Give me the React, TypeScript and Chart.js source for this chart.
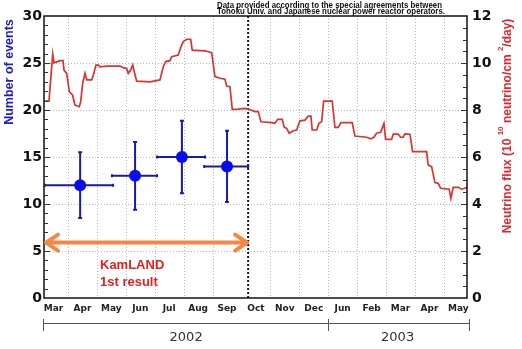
import React, { useEffect, useRef } from "react";
import { Chart, registerables } from "chart.js";

Chart.register(...registerables);

// ---- data ----
// x values are months counted from 1 Mar 2002 (1 = 1 Apr 2002, 10 = 1 Jan 2003, ...)
const monthLabels = ["Mar", "Apr", "May", "Jun", "Jul", "Aug", "Sep", "Oct", "Nov", "Dec", "Jun", "Feb", "Mar", "Apr", "May"];
const yearLabels = ["2002", "2003"];
const yearStarts = [0.17, 10];
const yearEnds = [10, 14.8];
const xMin = 0.17;
const xMax = 14.8;

const fluxMonths = [
  0.17, 0.343, 0.471, 0.516, 0.637, 0.723, 0.827, 0.862, 0.955, 1.045, 1.156, 1.242, 1.391, 1.439, 1.508, 1.588,
  1.647, 1.82, 1.875, 1.968, 2.048, 2.107, 2.338, 2.798, 2.912, 3.03, 3.085, 3.168, 3.237, 3.293, 3.375, 3.835,
  4.181, 4.295, 4.378, 4.527, 4.586, 4.814, 4.907, 4.987, 5.104, 5.243, 5.298, 5.737, 5.969, 6.083, 6.256, 6.429,
  6.487, 6.602, 6.681, 6.889, 7.12, 7.328, 7.466, 7.58, 7.674, 8.044, 8.158, 8.251, 8.41, 8.479, 8.562, 8.652,
  8.79, 8.908, 9.022, 9.195, 9.309, 9.402, 9.447, 9.6, 9.679, 9.772, 9.842, 10.139, 10.232, 10.346, 10.44, 10.83,
  10.924, 11.328, 11.467, 11.581, 11.674, 11.813, 11.927, 11.985, 12.193, 12.248, 12.421, 12.504, 12.594, 12.653,
  12.826, 12.919, 13.403, 13.458, 13.576, 13.69, 13.804, 13.887, 14.184, 14.243, 14.323, 14.495, 14.613, 14.727, 14.796,
];
const fluxValues = [
  8.38, 8.38, 10.38, 10.01, 10.06, 10.1, 10.1, 9.7, 9.56, 8.78, 8.64, 8.21, 8.14, 8.35, 9.14, 9.56,
  9.28, 9.28, 9.49, 9.91, 9.91, 9.84, 9.87, 9.87, 9.8, 9.77, 9.56, 9.7, 9.91, 9.63, 9.23, 9.2,
  9.28, 9.84, 10.06, 10.1, 10.27, 10.34, 10.69, 10.91, 11.01, 11.01, 10.55, 10.52, 10.44, 9.42, 9.35, 9.31,
  9.02, 8.99, 8.03, 8.04, 8.07, 8.0, 7.93, 7.93, 7.5, 7.46, 7.43, 7.6, 7.6, 7.26, 7.22, 7.01,
  7.12, 7.15, 7.54, 7.57, 7.74, 7.74, 7.15, 7.15, 7.43, 7.5, 8.38, 8.38, 7.26, 7.26, 7.46, 7.46,
  6.89, 6.84, 6.77, 6.84, 7.01, 7.05, 7.43, 6.75, 6.75, 6.97, 6.97, 6.84, 6.84, 6.98,
  6.97, 6.23, 6.23, 5.66, 5.59, 4.91, 4.88, 4.67, 4.63, 4.24, 4.71, 4.71, 4.63, 4.67, 4.71,
];

const eventMonths = [1.42, 3.32, 4.94, 6.5];
const eventCounts = [12, 13, 15, 14];
const eventErrors = [3.5, 3.6, 3.85, 3.8];
const eventStarts = [0.2, 2.52, 4.08, 5.71];
const eventEnds = [2.56, 4.08, 5.74, 7.23];

const firstResultEnd = 7.23;
const arrowLevel = 5.9;
const noteLines = ["KamLAND", "1st result"];
const noteX = 2.107;
const noteYs = [3.5, 1.63];
const creditLines = [
  "Data provided according to the special agreements between",
  "Tohoku Univ. and Japanese nuclear power reactor operators.",
];

const leftTitle = "Number of events";
const rightTitleParts: [string, boolean][] = [
  ["Neutrino flux (10 ", false],
  ["10", true],
  [" neutrino/cm ", false],
  ["2", true],
  ["/day)", false],
];

const decorPlugin = {
  id: "decor",
  beforeDatasetsDraw(chart: any) {
    const { ctx, chartArea: a, scales } = chart;
    const x = scales.x;
    const y = scales.y;
    ctx.save();
    // dotted grid
    ctx.strokeStyle = "#b8b8b8";
    ctx.lineWidth = 1;
    ctx.setLineDash([1, 2]);
    for (let m = 1; m <= 14; m++) {
      if (m === 7) continue;
      const px = Math.round(x.getPixelForValue(m)) + 0.5;
      ctx.beginPath();
      ctx.moveTo(px, a.top);
      ctx.lineTo(px, a.bottom);
      ctx.stroke();
    }
    for (let v = 5; v < 30; v += 5) {
      const py = Math.round(y.getPixelForValue(v)) + 0.5;
      ctx.beginPath();
      ctx.moveTo(a.left, py);
      ctx.lineTo(a.right, py);
      ctx.stroke();
    }
    // black dotted line: end of first result period
    ctx.strokeStyle = "#1a1a1a";
    ctx.lineWidth = 2;
    ctx.setLineDash([2, 2]);
    const dx = x.getPixelForValue(firstResultEnd);
    ctx.beginPath();
    ctx.moveTo(dx, a.top);
    ctx.lineTo(dx, a.bottom);
    ctx.stroke();
    ctx.setLineDash([]);

    // error bars
    ctx.strokeStyle = "#1a1aa8";
    ctx.lineWidth = 2;
    for (let i = 0; i < eventMonths.length; i++) {
      const cx = x.getPixelForValue(eventMonths[i]);
      const cy = y.getPixelForValue(eventCounts[i]);
      const x0 = x.getPixelForValue(eventStarts[i]);
      const x1 = x.getPixelForValue(eventEnds[i]);
      const y0 = y.getPixelForValue(eventCounts[i] + eventErrors[i]);
      const y1 = y.getPixelForValue(eventCounts[i] - eventErrors[i]);
      ctx.beginPath();
      ctx.moveTo(x0, cy);
      ctx.lineTo(x1, cy);
      ctx.moveTo(cx, y0);
      ctx.lineTo(cx, y1);
      ctx.moveTo(x0, cy - 1.5);
      ctx.lineTo(x0, cy + 1.5);
      ctx.moveTo(x1, cy - 1.5);
      ctx.lineTo(x1, cy + 1.5);
      ctx.moveTo(cx - 2, y0);
      ctx.lineTo(cx + 2, y0);
      ctx.moveTo(cx - 2, y1);
      ctx.lineTo(cx + 2, y1);
      ctx.stroke();
    }
    ctx.restore();
  },
  afterDatasetsDraw(chart: any) {
    const { ctx, chartArea: a, scales } = chart;
    const x = scales.x;
    const y = scales.y;
    const y2 = scales.y2;
    ctx.save();

    // frame
    ctx.strokeStyle = "#111";
    ctx.lineWidth = 1.5;
    ctx.strokeRect(a.left, a.top, a.right - a.left, a.bottom - a.top);

    // inner ticks
    ctx.lineWidth = 1;
    ctx.strokeStyle = "#333";
    for (let v = 1; v < 30; v++) {
      const py = Math.round(y.getPixelForValue(v)) + 0.5;
      const len = v % 5 === 0 ? 6 : 4;
      ctx.beginPath();
      ctx.moveTo(a.left, py);
      ctx.lineTo(a.left + len, py);
      ctx.stroke();
    }
    for (let v = 0.5; v < 12; v += 0.5) {
      const py = Math.round(y2.getPixelForValue(v)) + 0.5;
      const len = v % 2 === 0 ? 6 : 4;
      ctx.beginPath();
      ctx.moveTo(a.right, py);
      ctx.lineTo(a.right - len, py);
      ctx.stroke();
    }

    // orange double arrow
    const ay = y.getPixelForValue(arrowLevel);
    const ax0 = x.getPixelForValue(xMin) + 2;
    const ax1 = x.getPixelForValue(firstResultEnd) - 1;
    ctx.strokeStyle = "#f5873e";
    ctx.lineWidth = 4;
    ctx.lineCap = "round";
    ctx.lineJoin = "round";
    ctx.beginPath();
    ctx.moveTo(ax0, ay);
    ctx.lineTo(ax1, ay);
    ctx.moveTo(ax0 + 12, ay - 8);
    ctx.lineTo(ax0, ay);
    ctx.lineTo(ax0 + 12, ay + 8);
    ctx.moveTo(ax1 - 12, ay - 8);
    ctx.lineTo(ax1, ay);
    ctx.lineTo(ax1 - 12, ay + 8);
    ctx.stroke();

    // KamLAND note
    ctx.fillStyle = "#e3201b";
    ctx.font = 'bold 13px "Liberation Sans", Arial, sans-serif';
    ctx.textAlign = "left";
    ctx.textBaseline = "middle";
    noteLines.forEach((t, i) => {
      ctx.fillText(t, x.getPixelForValue(noteX), y.getPixelForValue(noteYs[i]));
    });

    // year bracket
    const by = a.bottom + 25.5;
    ctx.strokeStyle = "#555";
    ctx.lineWidth = 1;
    ctx.lineCap = "butt";
    const bl = x.getPixelForValue(yearStarts[0]) - 0.5;
    const br = x.getPixelForValue(yearEnds[1]) + 2.5;
    ctx.beginPath();
    ctx.moveTo(bl, by);
    ctx.lineTo(br, by);
    [bl, Math.round(x.getPixelForValue(yearStarts[1])) + 0.5, br].forEach((px) => {
      ctx.moveTo(px, a.bottom + 21);
      ctx.lineTo(px, a.bottom + 33);
    });
    ctx.stroke();
    ctx.fillStyle = "#333";
    ctx.font = '13px "DejaVu Sans", sans-serif';
    ctx.textAlign = "center";
    yearLabels.forEach((t, i) => {
      const cx = (x.getPixelForValue(yearStarts[i]) + x.getPixelForValue(yearEnds[i])) / 2;
      ctx.fillText(t, cx, a.bottom + 40);
    });

    // credit text at top
    ctx.fillStyle = "#111";
    ctx.font = 'bold 8.5px "Liberation Sans", Arial, sans-serif';
    ctx.textAlign = "left";
    ctx.textBaseline = "alphabetic";
    ctx.fillText(creditLines[0], 217, 7.5, 225);
    ctx.fillText(creditLines[1], 217, 14, 228);

    // left title
    ctx.save();
    ctx.translate(10, 72);
    ctx.rotate(-Math.PI / 2);
    ctx.fillStyle = "#1d1dc9";
    ctx.font = 'bold 12.5px "Liberation Sans", Arial, sans-serif';
    ctx.textAlign = "center";
    ctx.textBaseline = "middle";
    ctx.fillText(leftTitle, 0, 0);
    ctx.restore();

    // right title
    ctx.save();
    ctx.translate(506, 126);
    ctx.rotate(-Math.PI / 2);
    ctx.fillStyle = "#e3262b";
    ctx.textAlign = "left";
    ctx.textBaseline = "alphabetic";
    const mainFont = 'bold 12px "Liberation Sans", Arial, sans-serif';
    const supFont = 'bold 8px "Liberation Sans", Arial, sans-serif';
    let total = 0;
    rightTitleParts.forEach(([t, sup]) => {
      ctx.font = sup ? supFont : mainFont;
      total += ctx.measureText(t).width;
    });
    let pos = -total / 2;
    rightTitleParts.forEach(([t, sup]) => {
      ctx.font = sup ? supFont : mainFont;
      ctx.fillText(t, pos, sup ? -3 : 5);
      pos += ctx.measureText(t).width;
    });
    ctx.restore();

    ctx.restore();
  },
};

export default function App() {
  const ref = useRef<HTMLCanvasElement | null>(null);
  useEffect(() => {
    if (!ref.current) return;
    const chart = new Chart(ref.current, {
      type: "line",
      data: {
        datasets: [
          {
            label: "events",
            data: eventMonths.map((m, i) => ({ x: m, y: eventCounts[i] })),
            yAxisID: "y",
            showLine: false,
            pointRadius: 6,
            pointHoverRadius: 6,
            pointBackgroundColor: "#0b0bf0",
            pointBorderWidth: 0,
            borderColor: "#0b0bf0",
            order: 0,
          },
          {
            label: "flux",
            data: fluxMonths.map((m, i) => ({ x: m, y: fluxValues[i] })),
            yAxisID: "y2",
            borderColor: "#dc3232",
            borderWidth: 1.7,
            pointRadius: 0,
            tension: 0,
            fill: false,
            order: 1,
          },
        ],
      },
      options: {
        responsive: false,
        animation: false,
        events: [],
        layout: { padding: { top: 16, left: 0, right: 0, bottom: 0 } },
        plugins: { legend: { display: false }, tooltip: { enabled: false }, title: { display: false } },
        scales: {
          x: {
            type: "linear",
            min: xMin,
            max: xMax,
            grid: { display: false, drawTicks: false },
            border: { display: false },
            afterBuildTicks: (scale: any) => {
              scale.ticks = monthLabels.map((_, i) => ({ value: i + 0.5 }));
            },
            afterFit: (scale: any) => {
              scale.height = 51;
            },
            ticks: {
              autoSkip: false,
              maxRotation: 0,
              padding: 5,
              color: "#222",
              font: { family: "DejaVu Sans", size: 9, weight: "bold" },
              callback: (_v: any, i: number) => monthLabels[i],
            },
          },
          y: {
            position: "left",
            min: 0,
            max: 30,
            grid: { display: false, drawTicks: false },
            border: { display: false },
            afterFit: (scale: any) => {
              scale.width = 44;
            },
            ticks: {
              stepSize: 5,
              padding: 2,
              color: "#111",
              font: { family: "DejaVu Sans", size: 14, weight: "bold" },
            },
          },
          y2: {
            position: "right",
            min: 0,
            max: 12,
            grid: { display: false, drawTicks: false },
            border: { display: false },
            afterFit: (scale: any) => {
              scale.width = 55;
            },
            ticks: {
              stepSize: 2,
              padding: 5,
              color: "#111",
              font: { family: "DejaVu Sans", size: 14, weight: "bold" },
            },
          },
        },
      },
      plugins: [decorPlugin],
    } as any);
    return () => chart.destroy();
  }, []);
  return (
    <div style={{ position: "fixed", left: 0, top: 0, width: 522, height: 349, background: "#fff" }}>
      <canvas ref={ref} width={522} height={349} style={{ display: "block", width: 522, height: 349 }} />
    </div>
  );
}
